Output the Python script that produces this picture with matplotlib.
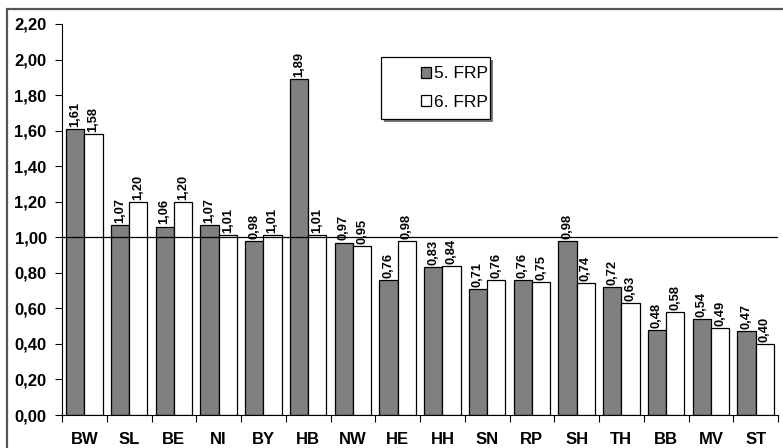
import matplotlib.pyplot as plt
import numpy as np
from matplotlib.patches import Rectangle

laender = ['BW', 'SL', 'BE', 'NI', 'BY', 'HB', 'NW', 'HE', 'HH', 'SN', 'RP', 'SH', 'TH', 'BB', 'MV', 'ST']
frp5 = [1.61, 1.07, 1.06, 1.07, 0.98, 1.89, 0.97, 0.76, 0.83, 0.71, 0.76, 0.98, 0.72, 0.48, 0.54, 0.47]
frp6 = [1.58, 1.20, 1.20, 1.01, 1.01, 1.01, 0.95, 0.98, 0.84, 0.76, 0.75, 0.74, 0.63, 0.58, 0.49, 0.40]

plt.rcParams['font.family'] = ['Liberation Sans', 'DejaVu Sans']

W, H = 783, 448
fig = plt.figure(figsize=(W / 100, H / 100), dpi=100)

def px(x0, y0, w, h):
    # Pixelangaben (von oben links) in Figure-Koordinaten
    return (x0 / W, 1 - (y0 + h) / H), w / W, h / H

# Rahmen um die ganze Grafik (rechts und unten abgeschnitten)
fig.patches.append(Rectangle((7 / W, -0.05), 1.1, 1 - 9 / H + 0.05, transform=fig.transFigure,
                             fill=False, edgecolor='#555555', linewidth=1.6))

ax = fig.add_axes([62 / W, 1 - 415 / H, 716 / W, 391 / H])
x = np.arange(len(laender))
w = 0.41
b1 = ax.bar(x - w / 2, frp5, w, color='#808080', edgecolor='black', linewidth=0.9, label='5. FRP')
b2 = ax.bar(x + w / 2, frp6, w, color='white', edgecolor='black', linewidth=0.9, label='6. FRP')

def fmt(v):
    return f"{v:.2f}".replace('.', ',')

for bars, vals in ((b1, frp5), (b2, frp6)):
    for r, v in zip(bars, vals):
        ax.text(r.get_x() + r.get_width() / 2, v + 0.012, fmt(v), rotation=90,
                ha='center', va='bottom', fontsize=9.3, fontweight='bold')

ax.axhline(1.0, color='black', linewidth=0.9)

ax.set_xlim(-0.5, len(laender) - 0.5)
ax.set_ylim(0, 2.2)
yt = np.arange(0, 2.21, 0.2)
ax.set_yticks(yt)
ax.set_yticklabels([fmt(v) for v in yt], fontsize=12, fontweight='bold')
ax.set_xticks(np.arange(len(laender) + 1) - 0.5)
ax.set_xticklabels([])
ax.set_xticks(x, minor=True)
ax.set_xticklabels(laender, minor=True, fontsize=12, fontweight='bold')
ax.tick_params(axis='x', which='minor', length=0, pad=12)
ax.tick_params(axis='x', which='major', length=5, direction='out')
ax.tick_params(axis='y', length=5, direction='out', pad=6)
ax.spines['top'].set_visible(False)
ax.spines['right'].set_visible(False)

# Legendenkasten mit Schatten
(lx, ly), lw, lh = px(381, 57, 109, 62)
ax.add_patch(Rectangle((lx + 3 / W, ly - 3 / H), lw, lh, transform=fig.transFigure,
                       facecolor='#777777', edgecolor='none', zorder=5, clip_on=False))
ax.add_patch(Rectangle((lx, ly), lw, lh, transform=fig.transFigure,
                       facecolor='white', edgecolor='black', linewidth=0.9, zorder=6, clip_on=False))
leg = ax.legend(loc='center right', bbox_to_anchor=(488 / W, 1 - 88 / H),
                bbox_transform=fig.transFigure, fontsize=12.5, frameon=False,
                handlelength=0.6, handleheight=0.6, handletextpad=0.15,
                borderpad=0, labelspacing=0.75, borderaxespad=0)
leg.set_zorder(7)

fig.savefig('out.png', dpi=100)
